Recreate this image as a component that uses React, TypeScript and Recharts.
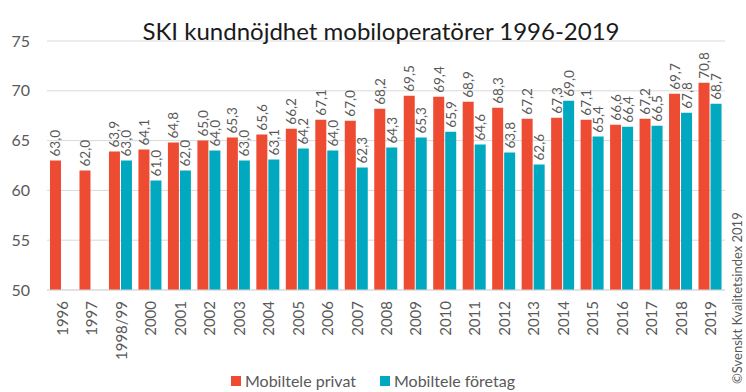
import React from "react"
import { Bar, BarChart, CartesianGrid, LabelList, XAxis, YAxis } from "recharts"

const years = ["1996", "1997", "1998/99", "2000", "2001", "2002", "2003", "2004", "2005", "2006", "2007", "2008", "2009", "2010", "2011", "2012", "2013", "2014", "2015", "2016", "2017", "2018", "2019"]
const privat = [63.0, 62.0, 63.9, 64.1, 64.8, 65.0, 65.3, 65.6, 66.2, 67.1, 67.0, 68.2, 69.5, 69.4, 68.9, 68.3, 67.2, 67.3, 67.1, 66.6, 67.2, 69.7, 70.8]
const foretag = [null, null, 63.0, 61.0, 62.0, 64.0, 63.0, 63.1, 64.2, 64.0, 62.3, 64.3, 65.3, 65.9, 64.6, 63.8, 62.6, 69.0, 65.4, 66.4, 66.5, 67.8, 68.7]
const yTicks = [50, 55, 60, 65, 70, 75]

const series = [
    { key: "privat", name: "Mobiltele privat", color: "#EE4B33" },
    { key: "foretag", name: "Mobiltele företag", color: "#00A9C0" },
]

const data = years.map((year, i) => ({ year, privat: privat[i], foretag: foretag[i] }))

const FONT = "Lato, 'Open Sans', sans-serif"
const GREY = "#595959"

const fmt = (v: number) => v.toFixed(1).replace(".", ",")

function ValueLabel(props: any) {
    const { x, y, width, value } = props
    if (value == null) return null
    const cx = x + width / 2
    const cy = y - 4
    return <text x={cx} y={cy} transform={`rotate(-90, ${cx}, ${cy})`} textAnchor="start" dominantBaseline="central"
        fontSize={13.5} fill={GREY} fontFamily={FONT}>{fmt(value)}</text>
}

function YearTick(props: any) {
    const { x, y, payload } = props
    const ty = y + 11
    return <text x={x} y={ty} transform={`rotate(-90, ${x}, ${ty})`} textAnchor="end" dominantBaseline="central"
        fontSize={15} fill={GREY} fontFamily={FONT}>{payload.value}</text>
}

export default function App() {
    return <div style={{ position: "absolute", left: 0, top: 0, width: 746, height: 392, background: "#fff", fontFamily: FONT }}>
        <BarChart width={746} height={392} data={data} margin={{ top: 41, right: 21, left: 0, bottom: 0 }}
            barSize={11} barGap={1}>
            <CartesianGrid vertical={false} stroke="#D9D9D9" />
            <XAxis dataKey="year" interval={0} height={102} tickLine={false} tickSize={0} tickMargin={0}
                axisLine={{ stroke: "#D9D9D9" }} tick={<YearTick />} />
            <YAxis domain={[50, 75]} ticks={yTicks} width={47} axisLine={false} tickLine={false} tickSize={0}
                tickMargin={17} tick={{ fontSize: 16, fill: GREY, fontFamily: FONT }} allowDataOverflow />
            {series.map(s =>
                <Bar key={s.key} dataKey={s.key} name={s.name} fill={s.color} isAnimationActive={false}>
                    <LabelList dataKey={s.key} content={<ValueLabel />} />
                </Bar>
            )}
        </BarChart>
        <div style={{ position: "absolute", left: 0, top: 15, width: 762, textAlign: "center", fontSize: 24, color: "#1a1a1a", lineHeight: "32px" }}>
            SKI kundnöjdhet mobiloperatörer 1996-2019
        </div>
        <div style={{ position: "absolute", left: 0, top: 370, width: 746, display: "flex", justifyContent: "center", gap: 24, fontSize: 16, color: GREY, lineHeight: "22px" }}>
            {series.map(s =>
                <div key={s.key} style={{ display: "flex", alignItems: "center", gap: 4 }}>
                    <span style={{ display: "inline-block", width: 10, height: 10, background: s.color }} />
                    <span>{s.name}</span>
                </div>
            )}
        </div>
        <svg style={{ position: "absolute", left: 728, top: 190, overflow: "visible" }} width={18} height={200}>
            <text x={9} y={194} transform="rotate(-90, 9, 194)" textAnchor="start" dominantBaseline="central"
                fontSize={13} fill={GREY} fontFamily={FONT}>©Svenskt Kvalitetsindex 2019</text>
        </svg>
    </div>
}
